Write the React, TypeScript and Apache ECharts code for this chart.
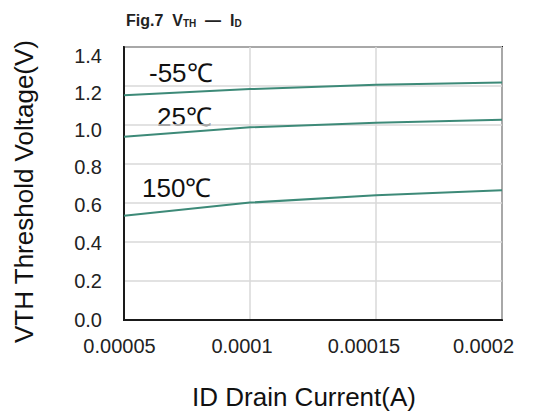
import React, { useEffect, useRef } from "react";
import * as echarts from "echarts";

const currents = [0.00005, 0.0001, 0.00015, 0.0002];
const vthMinus55 = [1.153, 1.184, 1.206, 1.218];
const vth25 = [0.94, 0.988, 1.012, 1.027];
const vth150 = [0.535, 0.602, 0.64, 0.665];
const seriesNames = ["-55℃", "25℃", "150℃"];
const yTicks = [0, 0.2, 0.4, 0.6, 0.8, 1.0, 1.2, 1.4];
const xTicks = [0.00005, 0.0001, 0.00015, 0.0002];

const FONT = "Liberation Sans, Arial, sans-serif";
const NARROW = "Liberation Sans Narrow, Arial Narrow, Liberation Sans, sans-serif";
const LINE = "#3d8a78";

// small label nudges to mimic the source rendering
const yShift = [0, 0, 1, 2, 3, 5, 7, 9];
const xShift = [9, 16, 24, 37];

export default function App() {
  const ref = useRef<HTMLDivElement>(null);
  useEffect(() => {
    const chart = echarts.init(ref.current!, null, { renderer: "svg" });
    const mk = (name: string, vals: number[]) => ({
      name,
      type: "line",
      data: currents.map((c, i) => [c, vals[i]]),
      showSymbol: false,
      lineStyle: { color: LINE, width: 2 },
      itemStyle: { color: LINE },
    });
    const yRich: Record<string, any> = {};
    yTicks.forEach((_, i) => {
      yRich["y" + i] = { fontSize: 20, color: "#222", fontFamily: FONT, padding: [yShift[i] * 2, 0, 0, 0] };
    });
    const xRich: Record<string, any> = {};
    xTicks.forEach((_, i) => {
      xRich["x" + i] = { fontSize: 20, color: "#222", fontFamily: FONT, padding: [0, xShift[i], 0, 0] };
    });
    chart.setOption({
      animation: false,
      backgroundColor: "#fff",
      textStyle: { fontFamily: FONT },
      title: {
        text: "{a|Fig.7  V}{s|TH}{a|  —  I}{s|D}",
        left: 121,
        top: 3,
        textStyle: {
          rich: {
            a: { fontFamily: NARROW, fontSize: 16, fontWeight: "bold", color: "#222", verticalAlign: "bottom", lineHeight: 20 },
            s: { fontFamily: NARROW, fontSize: 10, fontWeight: "bold", color: "#222", verticalAlign: "bottom", lineHeight: 18 },
          },
        },
      },
      grid: {
        left: 124,
        right: 36,
        top: 47,
        bottom: 98,
        show: true,
        borderColor: "#1a1a1a",
        borderWidth: 2,
      },
      xAxis: {
        type: "value",
        min: 0.00005,
        max: 0.0002,
        interval: 0.00005,
        name: "ID Drain Current(A)",
        nameLocation: "middle",
        nameGap: 64,
        nameTextStyle: { fontSize: 26, color: "#111", fontFamily: FONT, padding: [0, 18, 0, 0] },
        axisLine: { show: true, lineStyle: { color: "#1a1a1a", width: 2 } },
        axisTick: { show: false },
        axisLabel: {
          margin: 16,
          rich: xRich,
          formatter: (v: number) => {
            const i = xTicks.findIndex((t) => Math.abs(t - v) < 1e-9);
            return `{x${i < 0 ? 0 : i}|${String(parseFloat(v.toPrecision(6)))}}`;
          },
        },
        splitLine: { show: true, lineStyle: { color: "#d9d9d9", width: 1.5 } },
      },
      yAxis: {
        type: "value",
        min: yTicks[0],
        max: yTicks[yTicks.length - 1],
        interval: 0.2,
        name: "VTH Threshold Voltage(V)",
        nameLocation: "middle",
        nameGap: 87,
        nameTextStyle: { fontSize: 26, color: "#111", fontFamily: FONT, padding: [0, 16, 0, 0] },
        axisLine: { show: true, lineStyle: { color: "#1a1a1a", width: 2 } },
        axisTick: { show: false },
        axisLabel: {
          margin: 22,
          rich: yRich,
          formatter: (v: number) => {
            const i = Math.round(v / 0.2);
            return `{y${i}|${v.toFixed(1)}}`;
          },
        },
        splitLine: { show: true, lineStyle: { color: "#d9d9d9", width: 1.5 } },
      },
      graphic: [
        { type: "text", left: 149, top: 60, style: { text: seriesNames[0], font: `26px ${FONT}`, fill: "#111" } },
        { type: "text", left: 157, top: 104, style: { text: seriesNames[1], font: `26px ${FONT}`, fill: "#111" } },
        { type: "text", left: 142, top: 175, style: { text: seriesNames[2], font: `26px ${FONT}`, fill: "#111" } },
      ],
      series: [mk(seriesNames[0], vthMinus55), mk(seriesNames[1], vth25), mk(seriesNames[2], vth150)],
    });
    return () => chart.dispose();
  }, []);
  return <div ref={ref} style={{ width: 538, height: 418, position: "absolute", left: 0, top: 0 }} />;
}
